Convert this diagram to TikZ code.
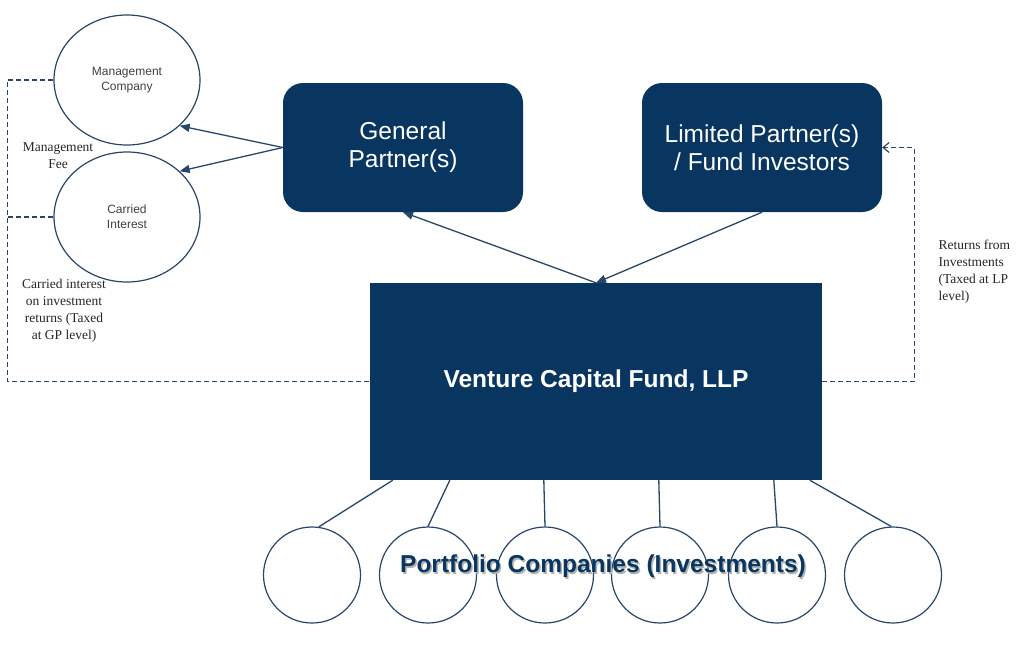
\documentclass[tikz,border=0pt]{standalone}
\usepackage{fontspec}
\setmainfont{Liberation Serif}
\setsansfont{Liberation Sans}
\usetikzlibrary{arrows.meta,shapes.geometric}

\definecolor{navy}{RGB}{9,54,96}
\definecolor{linecol}{RGB}{40,70,105}

% text with a soft drop shadow
\newcommand{\shadowtext}[1]{\makebox[0pt][l]{\hspace{1.5pt}\raisebox{-2pt}{\textcolor{black!30}{#1}}}#1}

\begin{document}
\begin{tikzpicture}[x=1pt,y=-1pt,>={Triangle[length=10pt,width=8pt]},
    party/.style={rectangle,rounded corners=20pt,fill=navy,text=white,
      minimum width=240pt,minimum height=129pt,align=center,
      font=\sffamily\fontsize{24.5}{28}\selectfont},
    entity/.style={ellipse,draw=linecol,line width=1.2pt,inner sep=0pt,
      minimum width=146pt,minimum height=130pt,align=center,
      text=black!75,font=\sffamily\fontsize{12}{15}\selectfont},
    company/.style={ellipse,draw=linecol,line width=1.2pt,inner sep=0pt,
      minimum width=97pt,minimum height=96pt},
    link/.style={draw=linecol,line width=1.3pt},
    dashline/.style={draw=linecol,line width=1.2pt,dash pattern=on 5pt off 3pt},
    note/.style={font=\fontsize{13.5}{17}\selectfont,text=black!85}]

\useasboundingbox (0,0) rectangle (1024,646);

% owners
\node[party] (gp) at (403,147.5) {General\\Partner(s)};
\node[party] (lp) at (762,147.5) {Limited Partner(s)\\/ Fund Investors};

% fund
\node[rectangle,fill=navy,text=white,minimum width=452pt,minimum height=197pt,
  font=\sffamily\bfseries\fontsize{24.5}{28}\selectfont] (fund) at (596,381.5) {Venture Capital Fund, LLP};

% GP side
\node[entity] (mc) at (127,80) {Management\\Company};
\node[entity] (ci) at (127,217) {Carried\\Interest};

% portfolio
\foreach \i/\x in {1/312,2/428,3/545,4/660,5/777,6/893}
  \node[company] (p\i) at (\x,575) {};

\foreach \i/\d/\a in {1/23/82,2/80/90,3/174/90,4/289/90,5/404/90,6/440/92}
  \draw[link] ([xshift=\d pt]fund.south west) -- (p\i.\a);

\draw[link,->] (fund.north) -- (gp.south);
\draw[link,->] (lp.south) -- (fund.north);
\draw[link,->] (gp.west) -- (mc.-41);
\draw[link,->] (gp.west) -- (ci.41);

% dashed flows
\draw[dashline] (mc.west) -- ++(-46,0) |- (fund.west);
\draw[dashline] (ci.west) -- ++(-46,0);
\draw[dashline,-{Straight Barb[length=6pt,width=10pt]}] (fund.east) -- ++(92,0) |- (lp.east);

% labels
\node[note,align=center] (fee) at (58,156) {Management\\Fee};
\node[note,align=center] (carry) at (64,311) {Carried interest\\on investment\\returns (Taxed\\at GP level)};
\node[note,align=left,anchor=north west] (ret) at (935,236) {Returns from\\Investments\\(Taxed at LP\\level)};

\node[text=navy,font=\sffamily\bfseries\fontsize{24.5}{28}\selectfont] (port) at (603,567)
  {\shadowtext{Portfolio Companies (Investments)}};

\end{tikzpicture}
\end{document}
